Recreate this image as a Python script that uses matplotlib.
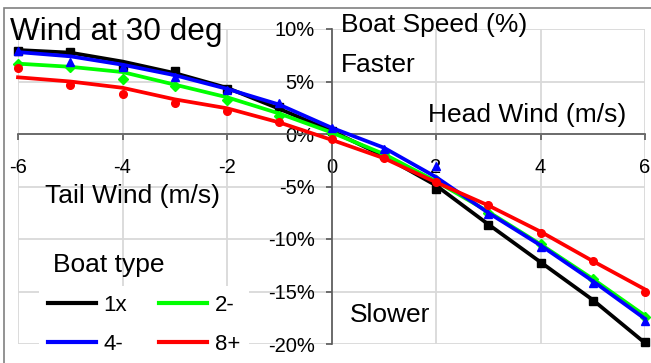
import matplotlib
matplotlib.use("Agg")
import matplotlib.pyplot as plt
from matplotlib.patches import Rectangle
from matplotlib.ticker import FuncFormatter

plt.rcParams['font.family'] = ['Liberation Sans', 'DejaVu Sans']
plt.rcParams['axes.unicode_minus'] = False

# wind speed (m/s), negative = tail wind
wind = [-6, -5, -4, -3, -2, -1, 0, 1, 2, 3, 4, 5, 6]

# trend lines (% boat speed change)
line_1x = [8.0, 7.75, 6.9, 5.8, 4.4, 2.4, 0.3, -2.1, -4.9, -8.6, -12.2, -15.8, -19.9]
line_2m = [6.7, 6.4, 5.9, 4.7, 3.5, 1.95, 0.15, -1.9, -4.5, -7.4, -10.5, -13.8, -17.3]
line_4m = [7.8, 7.4, 6.6, 5.6, 4.3, 2.8, 0.6, -1.3, -4.1, -7.5, -10.6, -14.0, -17.6]
line_8p = [5.4, 5.0, 4.4, 3.3, 2.45, 1.1, -0.55, -2.3, -4.6, -6.8, -9.3, -12.1, -14.8]

# measured points
pts_1x = [7.9, 7.8, 6.5, 6.0, 4.3, 2.6, 0.3, -2.0, -5.2, -8.7, -12.3, -15.9, -19.8]
pts_2m = [6.7, 6.4, 5.2, 4.6, 3.2, 1.7, 0.1, -1.8, -4.4, -7.5, -10.5, -13.8, -17.4]
pts_4m = [7.9, 6.9, 6.4, 5.4, 4.2, 3.0, 0.6, -1.4, -3.0, -7.6, -10.8, -14.2, -17.8]
pts_8p = [6.3, 4.7, 3.8, 3.0, 2.2, 1.1, -0.5, -2.3, -4.6, -6.8, -9.4, -12.1, -15.0]

W, H = 651, 363
fig = plt.figure(figsize=(W / 100, H / 100), dpi=100)
ax = fig.add_axes([18 / W, 19 / H, 627 / W, 315 / H])

series = [
    ('1x', line_1x, pts_1x, '#000000', 's'),
    ('2-', line_2m, pts_2m, '#00ff00', 'D'),
    ('4-', line_4m, pts_4m, '#0000ff', '^'),
    ('8+', line_8p, pts_8p, '#ff0000', 'o'),
]
handles = {}
for name, ln, pts, col, mk in series:
    h, = ax.plot(wind, ln, color=col, lw=2.7, label=name, clip_on=False, zorder=3)
    ax.plot(wind, pts, linestyle='none', marker=mk, color=col,
            markersize=5.5 if mk != 'D' else 5, clip_on=False, zorder=3)
    handles[name] = h

ax.set_xlim(-6, 6)
ax.set_ylim(-20, 10)
ax.set_xticks(range(-6, 7, 2))
ax.set_yticks(range(-20, 11, 5))
ax.yaxis.set_major_formatter(FuncFormatter(lambda v, p: f'{v:.0f}%'))
ax.grid(True, color='#d9d9d9', lw=1.3)
ax.set_axisbelow(True)

for s in ['top', 'right']:
    ax.spines[s].set_visible(False)
ax.spines['left'].set_position(('data', 0))
ax.spines['bottom'].set_position(('data', 0))
for s in ['left', 'bottom']:
    ax.spines[s].set_color('#595959')
    ax.spines[s].set_linewidth(1.2)
    ax.spines[s].set_zorder(2)
ax.tick_params(axis='both', direction='out', length=4, color='#595959',
               labelsize=14.5, width=1.2)
ax.tick_params(axis='x', pad=13)
ax.tick_params(axis='y', pad=8)
ax.set_facecolor('none')

leg = fig.legend([handles['1x'], handles['4-'], handles['2-'], handles['8+']],
                 ['1x', '4-', '2-', '8+'], ncol=2, loc='upper left',
                 bbox_to_anchor=(39 / W, 1 - 286 / H), borderaxespad=0,
                 frameon=True, fancybox=False, edgecolor='none', framealpha=1,
                 fontsize=16, handlelength=2.15, handletextpad=0.35,
                 columnspacing=1.45, labelspacing=0.8, borderpad=0.4)
for l in leg.get_lines():
    l.set_linewidth(3)


def txt(x, y, s, size):
    fig.text(x / W, 1 - y / H, s, fontsize=size, va='baseline', ha='left')


txt(10, 40, 'Wind at 30 deg', 22.7)
txt(341, 32, 'Boat Speed (%)', 19)
txt(341, 72, 'Faster', 19)
txt(428, 122, 'Head Wind (m/s)', 19)
txt(45, 203, 'Tail Wind (m/s)', 19)
txt(350, 322, 'Slower', 19)
txt(53, 272, 'Boat type', 19)

fig.patches.append(Rectangle((4 / W, -0.1), 1.2, 1.1 - 8 / H, transform=fig.transFigure,
                             fill=False, edgecolor='#808080', lw=1.2))

fig.savefig('out.png', dpi=100)
